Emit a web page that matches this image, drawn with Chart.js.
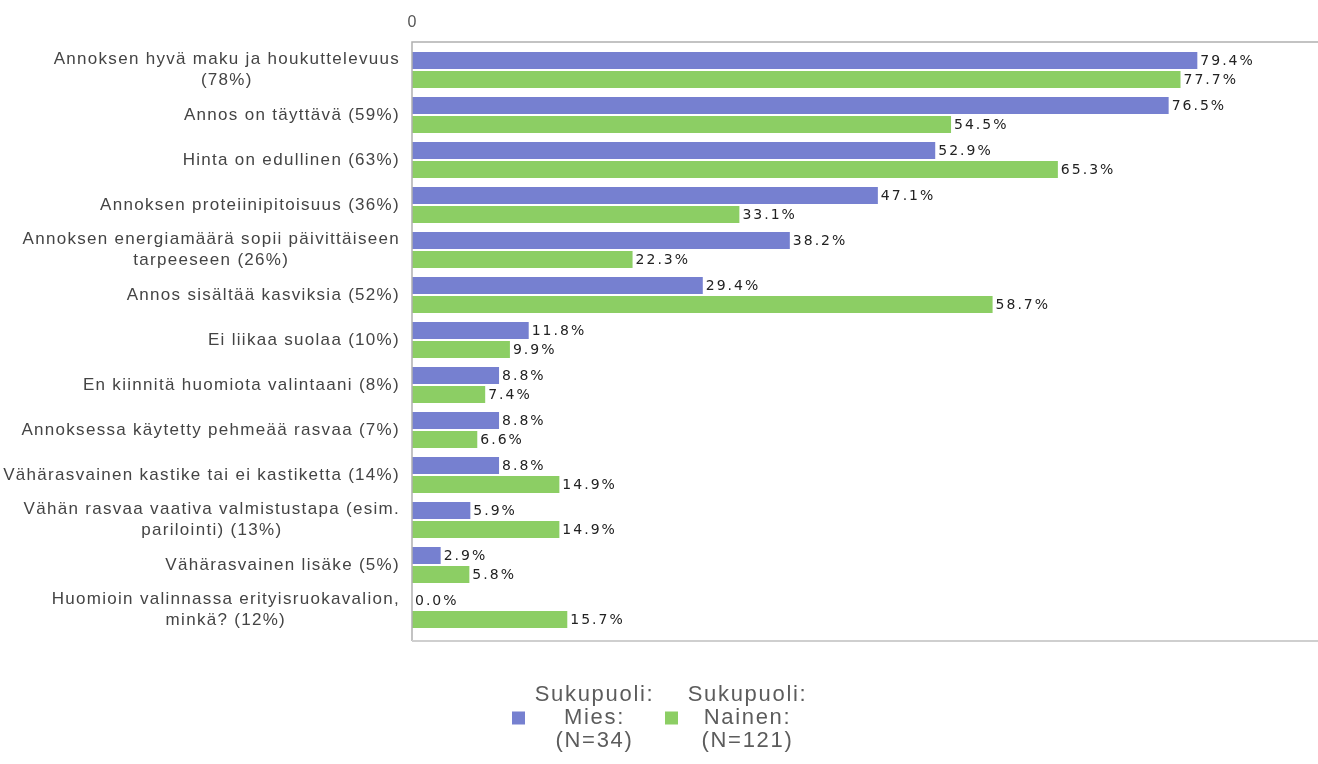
<!DOCTYPE html>
<html>
<head>
<meta charset="utf-8">
<script src="https://cdn.jsdelivr.net/npm/chart.js@4/dist/chart.umd.min.js"></script>
<style>
  body { margin: 0; background: #fff; }
  #wrap { width: 1318px; height: 764px; position: relative; }
</style>
</head>
<body>
<div id="wrap"><canvas id="chrt"></canvas></div>
<script>
const CATEGORIES = [
  ["Annoksen hyvä maku ja houkuttelevuus", "(78%)"],
  "Annos on täyttävä (59%)",
  "Hinta on edullinen (63%)",
  "Annoksen proteiinipitoisuus (36%)",
  ["Annoksen energiamäärä sopii päivittäiseen", "tarpeeseen (26%)"],
  "Annos sisältää kasviksia (52%)",
  "Ei liikaa suolaa (10%)",
  "En kiinnitä huomiota valintaani (8%)",
  "Annoksessa käytetty pehmeää rasvaa (7%)",
  "Vähärasvainen kastike tai ei kastiketta (14%)",
  ["Vähän rasvaa vaativa valmistustapa (esim.", "parilointi) (13%)"],
  "Vähärasvainen lisäke (5%)",
  ["Huomioin valinnassa erityisruokavalion,", "minkä? (12%)"],
];
const MIES = [79.4, 76.5, 52.9, 47.1, 38.2, 29.4, 11.8, 8.8, 8.8, 8.8, 5.9, 2.9, 0.0];
const NAINEN = [77.7, 54.5, 65.3, 33.1, 22.3, 58.7, 9.9, 7.4, 6.6, 14.9, 14.9, 5.8, 15.7];
const LBL_MIES = ["Sukupuoli:", "Mies:", "(N=34)"];
const LBL_NAINEN = ["Sukupuoli:", "Nainen:", "(N=121)"];
const X_TICKS = [0];

const COL = { mies: "#7680d0", nainen: "#8cce64" };

// kehys, y-akselin tekstit, arvot ja selite piirretään itse
const extras = {
  id: "extras",
  afterDraw(chart) {
    const ctx = chart.ctx;
    const a = chart.chartArea;
    const ys = chart.scales.y;
    ctx.save();

    // kehys
    ctx.lineWidth = 1.5;
    ctx.strokeStyle = "#b0b0b0";
    ctx.beginPath();
    ctx.moveTo(a.right, a.top - 5.5);
    ctx.lineTo(a.left, a.top - 5.5);
    ctx.lineTo(a.left, a.bottom + 8.5);
    ctx.stroke();
    ctx.strokeStyle = "#cfcfcf";
    ctx.lineWidth = 2;
    ctx.beginPath();
    ctx.moveTo(a.left, a.bottom + 8.5);
    ctx.lineTo(a.right, a.bottom + 8.5);
    ctx.stroke();

    // kategoriat
    ctx.font = "17px 'Liberation Sans', Arial, sans-serif";
    ctx.letterSpacing = "1.3px";
    ctx.fillStyle = "#444";
    ctx.textAlign = "center";
    ctx.textBaseline = "middle";
    CATEGORIES.forEach((lbl, i) => {
      const lines = Array.isArray(lbl) ? lbl : [lbl];
      const w = Math.max(...lines.map((l) => ctx.measureText(l).width));
      const cx = a.left - 12 - w / 2;
      const y = ys.getPixelForValue(i);
      lines.forEach((l, j) => {
        ctx.fillText(l, cx, y + (j - (lines.length - 1) / 2) * 21);
      });
    });

    // arvot palkkien perään
    ctx.font = "14px 'DejaVu Sans', sans-serif";
    ctx.letterSpacing = "2px";
    ctx.fillStyle = "#222";
    ctx.textAlign = "left";
    chart.data.datasets.forEach((ds, di) => {
      const meta = chart.getDatasetMeta(di);
      meta.data.forEach((bar, i) => {
        ctx.fillText(ds.data[i].toFixed(1) + "%", bar.x + 3, bar.y + 1);
      });
    });

    // selite
    ctx.font = "22px 'Liberation Sans', Arial, sans-serif";
    ctx.letterSpacing = "1.7px";
    ctx.textAlign = "center";
    const x0 = chart.width / 2 - 147;
    const my = 718;
    chart.data.datasets.forEach((ds, di) => {
      const mx = x0 + di * 153;
      ctx.fillStyle = ds.backgroundColor;
      ctx.fillRect(mx, my - 6.5, 13, 13);
      ctx.fillStyle = "#5c5c5c";
      ds.label.forEach((l, j) => {
        ctx.fillText(l, mx + 6.5 + 76, my + (j - 1) * 23);
      });
    });
    ctx.restore();
  },
};

new Chart(document.getElementById("chrt"), {
  type: "bar",
  data: {
    labels: CATEGORIES,
    datasets: [
      { label: LBL_MIES, data: MIES, backgroundColor: COL.mies },
      { label: LBL_NAINEN, data: NAINEN, backgroundColor: COL.nainen },
    ],
  },
  options: {
    indexAxis: "y",
    responsive: true,
    maintainAspectRatio: false,
    animation: false,
    categoryPercentage: 0.844,
    barPercentage: 0.895,
    layout: { padding: { top: 0, right: 0, bottom: 131.5, left: 0 } },
    scales: {
      x: {
        position: "top",
        min: 0,
        max: 91.6,
        grid: { display: false, drawTicks: false },
        border: { display: false },
        ticks: {
          stepSize: 10,
          autoSkip: false,
          maxRotation: 0,
          padding: 15,
          color: "#555",
          font: { family: "'Liberation Sans', Arial, sans-serif", size: 16 },
          callback: (v) => (X_TICKS.includes(v) ? String(v) : ""),
        },
        afterFit: (s) => {
          s.height = 47.5;
          s.paddingLeft = 0;
          s.paddingRight = 0;
        },
      },
      y: {
        grid: { display: false },
        border: { display: false },
        ticks: { display: false },
        afterFit: (s) => {
          s.width = 412;
          s.paddingTop = 0;
          s.paddingBottom = 0;
        },
      },
    },
    plugins: {
      legend: { display: false },
      tooltip: { enabled: false },
    },
  },
  plugins: [extras],
});
</script>
</body>
</html>
